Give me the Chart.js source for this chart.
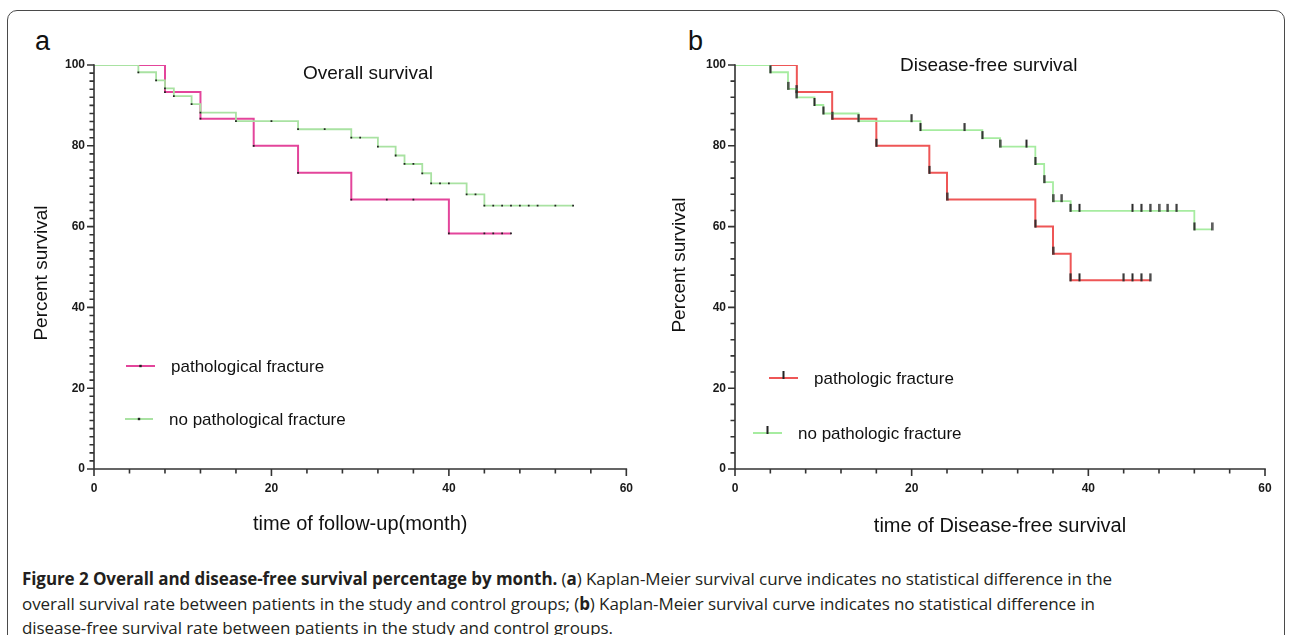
<!DOCTYPE html>
<html><head><meta charset="utf-8">
<script src="https://cdn.jsdelivr.net/npm/chart.js@4.4.1/dist/chart.umd.min.js"></script>
<style>
html,body{margin:0;padding:0;background:#fff;}
body{width:1290px;height:635px;position:relative;overflow:hidden;font-family:"Liberation Sans",Arial,sans-serif;}
#frame{position:absolute;left:7px;top:10px;width:1276px;height:700px;border:1.4px solid #4a4a4a;border-radius:10px;}
.cw{position:absolute;top:0;width:645px;height:550px;}
#wa{left:0}#wb{left:645px}
.plabel{position:absolute;font-size:27px;color:#111;line-height:1;}
#caption{position:absolute;left:22px;top:567px;font-family:"Open Sans",sans-serif;font-size:17px;line-height:24.5px;color:#231f20;white-space:nowrap;}
#caption b{font-weight:700;}
</style></head>
<body>
<div id="frame"></div>
<div class="plabel" style="left:35px;top:28px">a</div>
<div class="plabel" style="left:688px;top:28px">b</div>
<div class="cw" id="wa"><canvas id="ca" width="645" height="550"></canvas></div>
<div class="cw" id="wb"><canvas id="cb" width="645" height="550"></canvas></div>
<div id="caption">
<div id="cl1"><b>Figure 2 Overall and disease-free survival percentage by month.</b> (<b>a</b>) Kaplan-Meier survival curve indicates no statistical difference in the</div>
<div>overall survival rate between patients in the study and control groups; (<b>b</b>) Kaplan-Meier survival curve indicates no statistical difference in</div>
<div>disease-free survival rate between patients in the study and control groups.</div>
</div>
<script>
// ---- Panel a: Overall survival (time in months, percent survival) ----
const osPathTimes  = [0, 8, 12, 18, 23, 29, 40, 47];
const osPathSurv   = [100, 93.3, 86.7, 80, 73.3, 66.7, 58.3, 58.3];
const osPathCensor = [33, 36, 44, 45, 46, 47];
const osNoTimes    = [0, 5, 7, 8, 9, 11, 12, 16, 23, 29, 32, 34, 35, 37, 38, 42, 44, 54];
const osNoSurv     = [100, 98.2, 96.2, 94.2, 92.3, 90.3, 88.2, 86.1, 84.1, 82.0, 79.8, 77.6, 75.5, 73.2, 70.7, 68.0, 65.2, 65.2];
const osNoCensor   = [20, 26, 30, 36, 39, 40, 43, 45, 46, 47, 48, 49, 50, 52, 54];
// ---- Panel b: Disease-free survival ----
const dfsPathTimes  = [0, 7, 11, 16, 22, 24, 34, 36, 38, 47];
const dfsPathSurv   = [100, 93.3, 86.7, 80, 73.3, 66.7, 60, 53.3, 46.7, 46.7];
const dfsPathCensor = [39, 44, 45, 46, 47];
const dfsNoTimes    = [0, 4, 6, 7, 9, 10, 14, 21, 28, 30, 34, 35, 36, 38, 52, 54];
const dfsNoSurv     = [100, 98.2, 94.1, 92.0, 90.1, 88.0, 86.1, 83.9, 81.9, 79.8, 75.5, 71.0, 66.3, 63.9, 59.3, 59.3];
const dfsNoCensor   = [20, 26, 33, 37, 39, 45, 46, 47, 48, 49, 50, 54];
// ---- axes ----
const xTickLabels = [0, 20, 40, 60];
const yTickLabels = [0, 20, 40, 60, 80, 100];
const labelsA = ['pathological fracture', 'no pathological fracture'];
const labelsB = ['pathologic fracture', 'no pathologic fracture'];

function curve(times, surv){ return times.map((t,i)=>({x:t, y:surv[i]})); }
function stepAt(times, surv, t){ let v = surv[0]; for(let i=0;i<times.length;i++){ if(times[i]<=t) v=surv[i]; } return v; }
function markers(times, surv, censor){
  const pts = [];
  for(let i=1;i<times.length-1;i++) pts.push({x:times[i], y:surv[i]});
  censor.forEach(t=>pts.push({x:t, y:stepAt(times, surv, t)}));
  return pts;
}
function tickImg(){
  const c=document.createElement('canvas'); c.width=3; c.height=18;
  const g=c.getContext('2d'); g.fillStyle='#2b2b2b'; g.fillRect(0.5,2,2,8); return c;
}
const TICK = tickImg();
const FONT = '"Liberation Sans", Arial, sans-serif';

const kmDecor = {
  id:'kmDecor',
  afterDraw(chart, args, o){
    const {ctx, chartArea:ca, scales:{x,y}} = chart;
    ctx.save();
    ctx.strokeStyle='#333'; ctx.lineWidth=1.6; ctx.lineCap='butt';
    const x0=x.getPixelForValue(0), x1=x.getPixelForValue(60), y0=y.getPixelForValue(0), y1=y.getPixelForValue(100);
    ctx.beginPath(); ctx.moveTo(x0, y1-0.8); ctx.lineTo(x0, y0); ctx.moveTo(x0, y0); ctx.lineTo(x1+0.8, y0); ctx.stroke();
    ctx.beginPath();
    for(let v=0; v<=100; v+=o.yMinor){ const p=y.getPixelForValue(v); const L = v%20===0?7:4.5; ctx.moveTo(x0-L, p); ctx.lineTo(x0, p); }
    for(let v=0; v<=60; v+=o.xMinor){ const p=x.getPixelForValue(v); const L = v%20===0?7:4.5; ctx.moveTo(p, y0); ctx.lineTo(p, y0+L); }
    ctx.stroke();
    ctx.fillStyle='#111'; ctx.textBaseline='middle'; ctx.textAlign='center';
    // y axis title
    ctx.save(); ctx.translate(o.yTitleX, o.yTitleY); ctx.rotate(-Math.PI/2);
    ctx.font = '19px '+FONT; ctx.fillText('Percent survival', 0, 0); ctx.restore();
    // panel title
    ctx.textAlign='left';
    ctx.font = o.titleSize+'px '+FONT;
    ctx.fillText(o.title, o.titleX, o.titleY);
    // legend
    ctx.font = '17px '+FONT;
    o.legend.forEach(it=>{
      ctx.strokeStyle = it.color; ctx.lineWidth = 2;
      ctx.beginPath(); ctx.moveTo(it.x1, it.y); ctx.lineTo(it.x2, it.y); ctx.stroke();
      const mx = (it.x1+it.x2)/2;
      ctx.fillStyle='#222';
      if(o.tickMarker){ ctx.fillRect(mx-1, it.y-7, 2, 8); } else { ctx.fillRect(mx-1.2, it.y-1.2, 2.4, 2.4); }
      ctx.fillStyle='#111';
      ctx.fillText(it.text, it.tx, it.y+1);
    });
    ctx.restore();
  }
};

function makeChart(id, cfg){
  const lineDs = (label, data, color, w, order)=>({type:'line', label, data, borderColor:color, backgroundColor:color, borderWidth:w, stepped:true, pointRadius:0, fill:false, order});
  const markDs = (label, data, order)=>({type:'scatter', label, data, pointStyle: cfg.tickMarker? TICK : 'rect', pointRadius: cfg.tickMarker? 4 : 1.25, borderWidth:0, borderColor:'#222', backgroundColor:'#222', order});
  return new Chart(document.getElementById(id), {
    type:'line',
    data:{datasets:[
      markDs(cfg.labels[1]+' censored', markers(cfg.noT, cfg.noS, cfg.noC), 0),
      markDs(cfg.labels[0]+' censored', markers(cfg.pT, cfg.pS, cfg.pC), 0),
      lineDs(cfg.labels[1], curve(cfg.noT, cfg.noS), cfg.noColor, 1.8, 1),
      lineDs(cfg.labels[0], curve(cfg.pT, cfg.pS), cfg.pColor, 2, 2)
    ]},
    options:{
      responsive:false, animation:false, devicePixelRatio:1,
      layout:{padding:{left:0, right:cfg.padRight, top:65, bottom:0}},
      plugins:{legend:{display:false}, tooltip:{enabled:false},
        kmDecor:{yMinor:cfg.yMinor, xMinor:4, title:cfg.title, titleX:cfg.titleX, titleY:cfg.titleY, titleSize:cfg.titleSize,
                 legend:cfg.legend, tickMarker:cfg.tickMarker, yTitleX:cfg.yTitleX, yTitleY:cfg.yTitleY}},
      scales:{
        x:{type:'linear', min:0, max:60, afterBuildTicks(s){ s.ticks = xTickLabels.map(v=>({value:v})); },
           afterFit(s){ s.height = 81; },
           grid:{display:false, drawTicks:false}, border:{display:false},
           ticks:{padding:12, color:'#1a1a1a', font:{family:FONT, size:12, weight:'bold'}, autoSkip:false, maxRotation:0},
           title:{display:true, text:cfg.xTitle, color:'#111', font:{family:FONT, size:20}, padding:{top:0, bottom:cfg.xTitleBottom}}},
        y:{type:'linear', min:0, max:100, afterBuildTicks(s){ s.ticks = yTickLabels.map(v=>({value:v})); },
           afterFit(s){ s.width = cfg.yWidth; },
           grid:{display:false, drawTicks:false}, border:{display:false},
           ticks:{padding:9, color:'#1a1a1a', font:{family:FONT, size:12, weight:'bold'}, autoSkip:false},
           title:{display:false, text:'Percent survival'}}
      }
    },
    plugins:[kmDecor]
  });
}

makeChart('ca', {
  pT:osPathTimes, pS:osPathSurv, pC:osPathCensor, noT:osNoTimes, noS:osNoSurv, noC:osNoCensor,
  labels:labelsA, pColor:'#e3459b', noColor:'#a9e2a2', tickMarker:false,
  padRight:17, yWidth:94, yMinor:2, yTitleX:42, yTitleY:273, xTitleBottom:14,
  xTitle:'time of follow-up(month)', title:'Overall survival', titleX:303, titleY:74, titleSize:19,
  legend:[{x1:126, x2:155, y:366, color:'#e3459b', text:labelsA[0], tx:171},
          {x1:125, x2:153, y:419, color:'#a9e2a2', text:labelsA[1], tx:169}]
});
makeChart('cb', {
  pT:dfsPathTimes, pS:dfsPathSurv, pC:dfsPathCensor, noT:dfsNoTimes, noS:dfsNoSurv, noC:dfsNoCensor,
  labels:labelsB, pColor:'#ee5656', noColor:'#a6eca0', tickMarker:true,
  padRight:25, yWidth:90, yMinor:4, yTitleX:35, yTitleY:265, xTitleBottom:12,
  xTitle:'time of Disease-free survival', title:'Disease-free survival', titleX:255, titleY:66, titleSize:19,
  legend:[{x1:124, x2:153, y:378, color:'#ee5656', text:labelsB[0], tx:169},
          {x1:108, x2:137, y:433, color:'#a6eca0', text:labelsB[1], tx:153}]
});

// fit caption first line width to the reference (~1090px)
(function(){
  const l1 = document.getElementById('cl1');
  const r = document.createRange(); r.selectNodeContents(l1);
  const w = r.getBoundingClientRect().width;
  const n = l1.textContent.length;
  const ls = (1090 - w)/n;
  document.getElementById('caption').style.letterSpacing = ls.toFixed(3)+'px';
})();
</script>
</body></html>
